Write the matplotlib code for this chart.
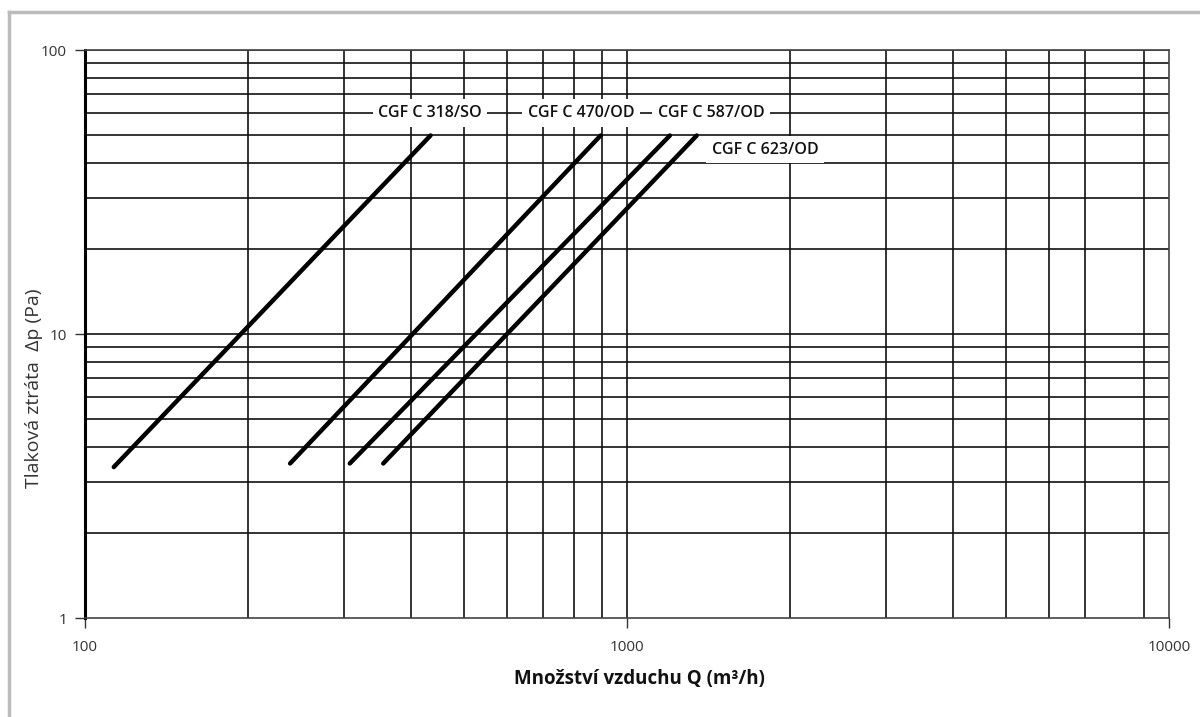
import numpy as np
import matplotlib
matplotlib.use('Agg')
import matplotlib.pyplot as plt
from matplotlib.lines import Line2D
from matplotlib.ticker import FixedLocator, NullLocator, FixedFormatter

# filter models and their pressure-loss lines (endpoints)
models = ['CGF C 318/SO', 'CGF C 470/OD', 'CGF C 587/OD', 'CGF C 623/OD']
q_start = [113, 239, 308, 355]      # m3/h
q_end = [434, 894, 1200, 1345]
dp_start = [3.4, 3.5, 3.5, 3.5]     # Pa
dp_end = [50, 50, 50, 50]

# label anchors
label_q = [433, 822, 1429, 1797]
label_dp = [60, 60, 60, 44.5]

x_major = [100, 1000, 10000]
y_major = [1, 10, 100]
# the original has no gridline at 8000
x_grid = [200, 300, 400, 500, 600, 700, 800, 900, 1000,
          2000, 3000, 4000, 5000, 6000, 7000, 9000]
y_grid = [2, 3, 4, 5, 6, 7, 8, 9, 10, 20, 30, 40, 50, 60, 70, 80, 90, 100]

plt.rcParams['font.family'] = ['Open Sans', 'DejaVu Sans']

fig = plt.figure(figsize=(12, 7.17), dpi=100)
ax = fig.add_axes([85/1200, 1 - 618/717, (1169 - 85)/1200, (618 - 50)/717])
ax.set_xscale('log')
ax.set_yscale('log')
ax.set_xlim(100, 10000)
ax.set_ylim(1, 100)

for xv in x_grid:
    ax.axvline(xv, color='#111111', lw=1.2, zorder=1)
for yv in y_grid:
    ax.axhline(yv, color='#111111', lw=1.2, zorder=1)

for i in range(len(models)):
    ax.plot([q_start[i], q_end[i]], [dp_start[i], dp_end[i]], color='black',
            lw=3.2, solid_capstyle='round', zorder=3)
    ax.text(label_q[i], label_dp[i], models[i], ha='center', va='center',
            fontsize=11.5, fontweight='semibold', color='#111111', zorder=4,
            bbox=dict(boxstyle='square,pad=0.35', facecolor='white', edgecolor='none'))

ax.xaxis.set_major_locator(FixedLocator(x_major))
ax.xaxis.set_major_formatter(FixedFormatter(['100', '1000', '10000']))
ax.xaxis.set_minor_locator(NullLocator())
ax.yaxis.set_major_locator(FixedLocator(y_major))
ax.yaxis.set_major_formatter(FixedFormatter(['1', '10', '100']))
ax.yaxis.set_minor_locator(NullLocator())
ax.tick_params(axis='both', direction='out', length=7, width=1, colors='#333333',
               labelsize=11, pad=6)
ax.tick_params(axis='x', pad=9)

ax.spines['left'].set_linewidth(2.2)
ax.spines['left'].set_color('black')
for s in ['bottom', 'right', 'top']:
    ax.spines[s].set_linewidth(1.2)
    ax.spines[s].set_color('#444444')

fig.text(639/1200, 1 - 679/717, 'Množství vzduchu Q (m³/h)', ha='center', va='center',
         fontsize=13.5, fontweight='bold', color='#111111')
fig.text(34/1200, 1 - 388/717, 'Tlaková ztráta  Δp (Pa)', ha='center', va='center',
         rotation=90, fontsize=14, color='#333333')

# light grey frame of the original picture
fig.add_artist(Line2D([9/1200, 1], [1 - 12/717, 1 - 12/717], color='#bbbbbb', lw=2.5))
fig.add_artist(Line2D([9/1200, 9/1200], [0, 1 - 12/717], color='#bbbbbb', lw=2.5))

fig.savefig('out.png', dpi=100)
